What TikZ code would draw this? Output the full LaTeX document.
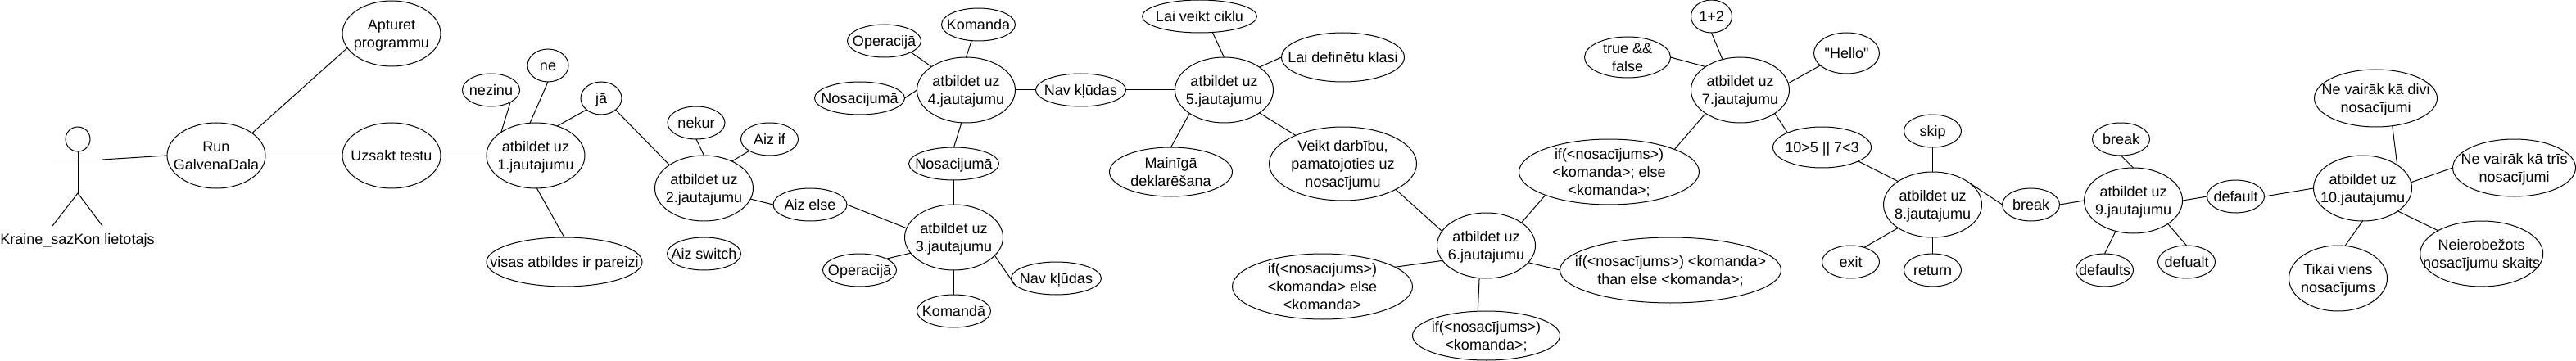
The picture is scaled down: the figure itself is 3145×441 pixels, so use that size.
\documentclass[tikz,border=0pt]{standalone}
\usepackage{fontspec}
\setmainfont{Liberation Sans}[Ligatures=TeXOff]
\usetikzlibrary{shapes.geometric}
\newcommand{\tx}[1]{\smash{\makebox[0pt][c]{\raisebox{-.35em}{\begin{tabular}{@{}c@{}}#1\end{tabular}}}}}
\tikzset{
  ov/.style 2 args={ellipse,draw=black,line width=1pt,inner sep=0pt,outer sep=0pt,minimum width=#1pt,minimum height=#2pt,font=\fontsize{18}{21.7}\selectfont,text=black},
  lnk/.style={draw=black,line width=1pt},
  lbl/.style={inner sep=0pt,outer sep=0pt,font=\fontsize{18}{21.7}\selectfont,text=black}
}
\begin{document}
\begin{tikzpicture}[x=1pt,y=-1pt]
\useasboundingbox (0,0) rectangle (3145,441);
% actor
\node[ov={30}{30}] (head) at (95,170) {};
\coordinate (neck) at (95,195);
\coordinate (handL) at (64,195);
\coordinate (handR) at (125,195);
\coordinate (hip) at (95,236);
\coordinate (footL) at (64,276);
\coordinate (footR) at (125,276);
\draw[lnk] (head) -- (hip);
\draw[lnk] (handL) -- (handR);
\draw[lnk] (footL) -- (hip) -- (footR);
\node[lbl] (actorlabel) at (94.5,292) {\tx{Kraine\_sazKon lietotajs}};
% nodes
\node[ov={120}{80}] (apt) at (478,41) {\tx{Apturet\\programmu}};
\node[ov={120}{80}] (run) at (264,190) {\tx{Run\\GalvenaDala}};
\node[ov={120}{80}] (uzs) at (478,190) {\tx{Uzsakt testu}};
\node[ov={120}{80}] (a1) at (654,190) {\tx{atbildet uz\\1.jautajumu}};
\node[ov={70}{40}] (nezinu) at (599.5,110) {\tx{nezinu}};
\node[ov={50}{40}] (ne) at (669,80) {\tx{nē}};
\node[ov={50}{40}] (ja) at (734,120) {\tx{jā}};
\node[ov={190}{60}] (visas) at (689,320) {\tx{visas atbildes ir pareizi}};
\node[ov={120}{80}] (a2) at (859.5,230) {\tx{atbildet uz\\2.jautajumu}};
\node[ov={70}{40}] (nekur) at (850,150) {\tx{nekur}};
\node[ov={70}{40}] (aizif) at (939.5,170) {\tx{Aiz if}};
\node[ov={90}{40}] (aizelse) at (989,250) {\tx{Aiz else}};
\node[ov={90}{40}] (aizsw) at (859.5,310) {\tx{Aiz switch}};
\node[ov={120}{80}] (a3) at (1164.5,290) {\tx{atbildet uz\\3.jautajumu}};
\node[ov={90}{40}] (op3) at (1049.5,330) {\tx{Operacijā}};
\node[ov={110}{40}] (nav3) at (1289.5,340) {\tx{Nav kļūdas}};
\node[ov={90}{40}] (kom3) at (1164.5,380) {\tx{Komandā}};
\node[ov={110}{40}] (nos3) at (1164.5,200) {\tx{Nosacijumā}};
\node[ov={120}{80}] (a4) at (1179.5,110) {\tx{atbildet uz\\4.jautajumu}};
\node[ov={110}{40}] (nos4) at (1049.5,120) {\tx{Nosacijumā}};
\node[ov={90}{40}] (op4) at (1079.5,50) {\tx{Operacijā}};
\node[ov={90}{40}] (kom4) at (1194.5,30) {\tx{Komandā}};
\node[ov={110}{40}] (nav4) at (1319.5,110) {\tx{Nav kļūdas}};
\node[ov={120}{80}] (a5) at (1494.5,110) {\tx{atbildet uz\\5.jautajumu}};
\node[ov={140}{40}] (cikl) at (1464.5,20) {\tx{Lai veikt ciklu}};
\node[ov={150}{60}] (klas) at (1639.5,70) {\tx{Lai definētu klasi}};
\node[ov={150}{60}] (main) at (1429.5,210) {\tx{Mainīgā\\deklarēšana}};
\node[ov={180}{90}] (veikt) at (1639.5,200) {\tx{Veikt darbību,\\pamatojoties uz\\nosacījumu}};
\node[ov={120}{80}] (a6) at (1814.5,300) {\tx{atbildet uz\\6.jautajumu}};
\node[ov={220}{80}] (ifa) at (1964.5,210) {\tx{if(<nosacījums>)\\<komanda>; else\\<komanda>;}};
\node[ov={270}{80}] (ifb) at (2039.5,330) {\tx{if(<nosacījums>) <komanda>\\than else <komanda>;}};
\node[ov={180}{60}] (ifc) at (1814.5,410) {\tx{if(<nosacījums>)\\<komanda>;}};
\node[ov={220}{80}] (ifd) at (1614.5,350) {\tx{if(<nosacījums>)\\<komanda> else\\<komanda>}};
\node[ov={120}{80}] (a7) at (2124.5,110) {\tx{atbildet uz\\7.jautajumu}};
\node[ov={50}{40}] (onetwo) at (2089.5,20) {\tx{1+2}};
\node[ov={105}{50}] (truef) at (1987,70) {\tx{true \&\&\\false}};
\node[ov={80}{50}] (hello) at (2254.5,65) {\tx{"Hello"}};
\node[ov={120}{50}] (tenfive) at (2224.5,180) {\tx{10>5 || 7<3}};
\node[ov={120}{80}] (a8) at (2359.5,250) {\tx{atbildet uz\\8.jautajumu}};
\node[ov={70}{40}] (skip) at (2359.5,160) {\tx{skip}};
\node[ov={70}{40}] (exit) at (2259.5,320) {\tx{exit}};
\node[ov={70}{40}] (ret) at (2359.5,330) {\tx{return}};
\node[ov={70}{40}] (brk8) at (2479.5,250) {\tx{break}};
\node[ov={120}{80}] (a9) at (2604.5,245) {\tx{atbildet uz\\9.jautajumu}};
\node[ov={70}{40}] (brk9) at (2589.5,170) {\tx{break}};
\node[ov={70}{40}] (dfs) at (2569.5,330) {\tx{defaults}};
\node[ov={70}{40}] (dfu) at (2669.5,320) {\tx{defualt}};
\node[ov={70}{40}] (dfl) at (2729.5,240) {\tx{default}};
\node[ov={120}{80}] (a10) at (2884.5,230) {\tx{atbildet uz\\10.jautajumu}};
\node[ov={150}{70}] (divi) at (2900.5,120) {\tx{Ne vairāk kā divi\\nosacījumi}};
\node[ov={150}{70}] (tris) at (3069.5,205) {\tx{Ne vairāk kā trīs\\nosacījumi}};
\node[ov={150}{80}] (neier) at (3029.7,310) {\tx{Neierobežots\\nosacījumu skaits}};
\node[ov={120}{80}] (tikai) at (2854.5,340) {\tx{Tikai viens\\nosacījums}};
% connectors
\draw[lnk] (handR) -- (run.180);
\draw[lnk] (run.32.5) -- (apt.198.4);
\draw[lnk] (run.0) -- (uzs.180);
\draw[lnk] (uzs.0) -- (a1.180);
\draw[lnk] (a1.146.3) -- (nezinu.-32.6);
\draw[lnk] (a1.100) -- (ne.270);
\draw[lnk] (a1.54.9) -- (ja.218.7);
\draw[lnk] (ja.-39) -- (a2.146.5);
\draw[lnk] (a1.272) -- (visas.90);
\draw[lnk] (a2.90) -- (nekur.270);
\draw[lnk] (a2.44) -- (aizif.210.5);
\draw[lnk] (a2.-13) -- (aizelse.180);
\draw[lnk] (a2.270) -- (aizsw.90);
\draw[lnk] (aizelse.0) -- (a3.169.5);
\draw[lnk] (a3.200) -- (op3.23.3);
\draw[lnk] (a3.-24.5) -- (nav3.189.2);
\draw[lnk] (a3.270) -- (kom3.90);
\draw[lnk] (a3.90) -- (nos3.270);
\draw[lnk] (nos3.90) -- (a4.262);
\draw[lnk] (a4.180) -- (nos4.0);
\draw[lnk] (a4.146.6) -- (op4.-23.3);
\draw[lnk] (a4.90) -- (kom4.247);
\draw[lnk] (a4.0) -- (nav4.180);
\draw[lnk] (nav4.0) -- (a5.180);
\draw[lnk] (a5.90) -- (cikl.-51);
\draw[lnk] (a5.33) -- (klas.180);
\draw[lnk] (a5.214.6) -- (main.90);
\draw[lnk] (a5.-33.8) -- (veikt.149.8);
\draw[lnk] (veikt.-26.7) -- (a6.162);
\draw[lnk] (a6.33.4) -- (ifa.200.4);
\draw[lnk] (ifa.19.8) -- (a7.214.3);
\draw[lnk] (a7.120) -- (onetwo.270);
\draw[lnk] (a7.146.6) -- (truef.0);
\draw[lnk] (a7.8.6) -- (hello.205.2);
\draw[lnk] (a7.-34) -- (tenfive.157.6);
\draw[lnk] (tenfive.-21.9) -- (a8.146.3);
\draw[lnk] (a6.-22.3) -- (ifb.180);
\draw[lnk] (a6.258) -- (ifc.109.5);
\draw[lnk] (a6.199.4) -- (ifd.15.4);
\draw[lnk] (a8.90) -- (skip.270);
\draw[lnk] (a8.214.3) -- (exit.47.6);
\draw[lnk] (a8.270) -- (ret.90);
\draw[lnk] (a8.31.8) -- (brk8.180);
\draw[lnk] (brk8.0) -- (a9.180);
\draw[lnk] (a9.90) -- (brk9.270);
\draw[lnk] (a9.240.5) -- (dfs.90);
\draw[lnk] (a9.-34) -- (dfu.90);
\draw[lnk] (a9.0) -- (dfl.180);
\draw[lnk] (dfl.0) -- (a10.180);
\draw[lnk] (a10.34) -- (divi.-59);
\draw[lnk] (a10.7.3) -- (tris.180);
\draw[lnk] (a10.-33.3) -- (neier.152);
\draw[lnk] (a10.270) -- (tikai.78);
\end{tikzpicture}
\end{document}
